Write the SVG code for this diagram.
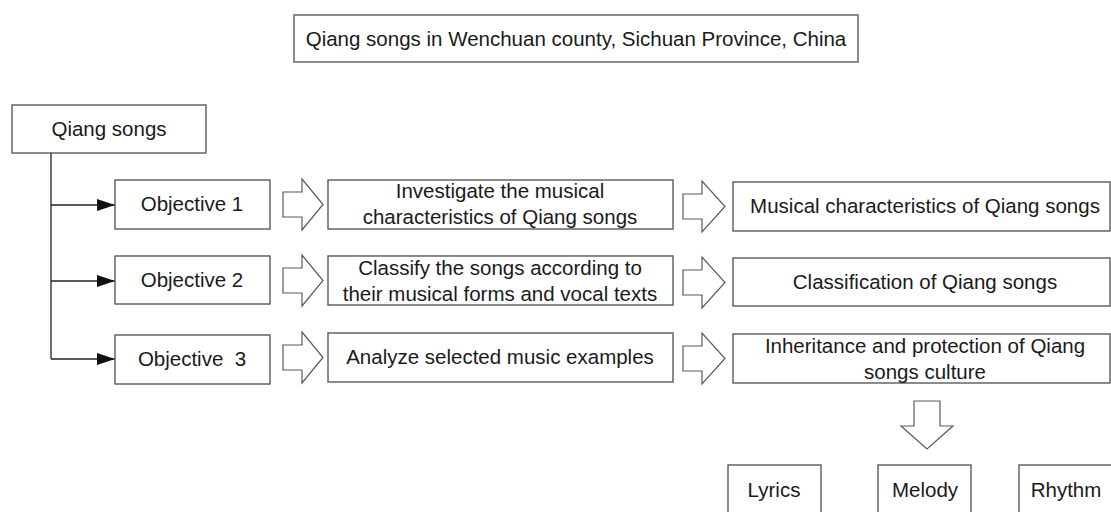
<svg xmlns="http://www.w3.org/2000/svg" width="1111" height="512" viewBox="0 0 1111 512">
<style>
.box{fill:#fff;stroke:#5a5a5a;stroke-width:1.4}
.blk{fill:#fff;stroke:#5a5a5a;stroke-width:1.2;stroke-linejoin:miter}
.t{font-family:"Liberation Sans",Arial,sans-serif;font-size:20.5px;fill:#1a1a1a;text-anchor:middle;white-space:pre}
.ln{stroke:#222;stroke-width:1.3;fill:none}
</style>
<defs>
<marker id="ah" markerWidth="18" markerHeight="12" refX="18" refY="6" orient="auto" markerUnits="userSpaceOnUse">
<path d="M0,0 L18,6 L0,12 Z" fill="#111"/>
</marker>
</defs>
<rect width="1111" height="512" fill="#fff"/>
<g id="title"><rect class="box" x="294" y="15" width="564" height="47"/><text class="t" x="576" y="46">Qiang songs in Wenchuan county, Sichuan Province, China</text></g>
<g id="root"><rect class="box" x="12" y="105" width="194" height="48"/><text class="t" x="109" y="136">Qiang songs</text></g>
<g id="connectors">
<path class="ln" d="M51,153 V359"/>
<path class="ln" d="M51,205 H115" marker-end="url(#ah)"/>
<path class="ln" d="M51,281 H115" marker-end="url(#ah)"/>
<path class="ln" d="M51,359 H115" marker-end="url(#ah)"/>
<path class="blk" d="M283,192 H302 V179 L323,204.5 L302,230 V217 H283 Z"/>
<path class="blk" d="M283,268 H302 V255 L323,280.5 L302,306 V293 H283 Z"/>
<path class="blk" d="M283,345 H302 V332 L323,357.5 L302,383 V370 H283 Z"/>
<path class="blk" d="M683,194 H702 V181 L725,206.5 L702,232 V219 H683 Z"/>
<path class="blk" d="M683,270 H702 V257 L725,282.5 L702,308 V295 H683 Z"/>
<path class="blk" d="M683,346 H702 V333 L725,358.5 L702,384 V371 H683 Z"/>
<path class="blk" d="M914,401 H940 V426 H953 L927,449 L901,426 H914 Z"/>
</g>
<g id="obj1"><rect class="box" x="115" y="180" width="155" height="49"/><text class="t" x="192" y="211">Objective 1</text></g>
<g id="obj2"><rect class="box" x="115" y="256" width="155" height="48"/><text class="t" x="192" y="287">Objective 2</text></g>
<g id="obj3"><rect class="box" x="115" y="335" width="155" height="49"/><text class="t" x="192" y="366">Objective  3</text></g>
<g id="task1"><rect class="box" x="328" y="180" width="345" height="49"/><text class="t" x="500" y="198">Investigate the musical</text><text class="t" x="500" y="224">characteristics of Qiang songs</text></g>
<g id="task2"><rect class="box" x="328" y="256" width="345" height="49"/><text class="t" x="500" y="275">Classify the songs according to</text><text class="t" x="500" y="301">their musical forms and vocal texts</text></g>
<g id="task3"><rect class="box" x="328" y="333" width="345" height="49"/><text class="t" x="500" y="364">Analyze selected music examples</text></g>
<g id="res1"><rect class="box" x="733" y="182" width="377" height="49"/><text class="t" x="925" y="213">Musical characteristics of Qiang songs</text></g>
<g id="res2"><rect class="box" x="733" y="258" width="377" height="48"/><text class="t" x="925" y="289">Classification of Qiang songs</text></g>
<g id="res3"><rect class="box" x="733" y="334" width="377" height="49"/><text class="t" x="925" y="353">Inheritance and protection of Qiang</text><text class="t" x="925" y="379">songs culture</text></g>
<g id="lyrics"><rect class="box" x="728" y="465" width="93" height="60"/><text class="t" x="774" y="497">Lyrics</text></g>
<g id="melody"><rect class="box" x="878" y="465" width="93" height="60"/><text class="t" x="925" y="497">Melody</text></g>
<g id="rhythm"><rect class="box" x="1019" y="465" width="100" height="60"/><text class="t" x="1066" y="497">Rhythm</text></g>
</svg>
